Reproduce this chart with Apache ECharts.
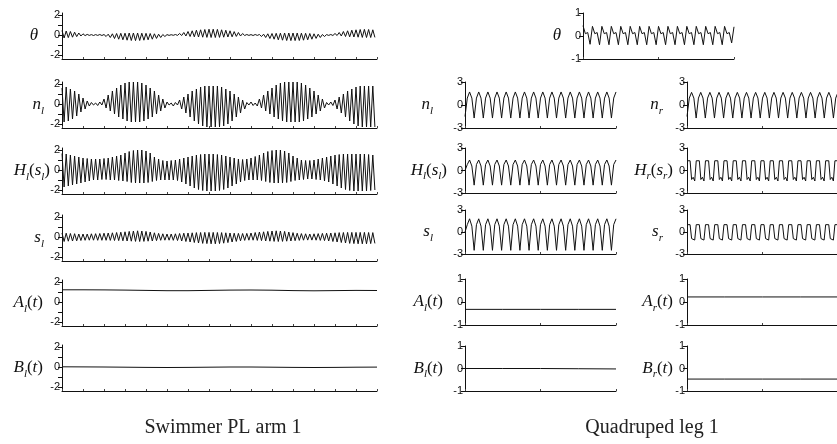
<!DOCTYPE html>
<html><head><meta charset="utf-8">
<script src="https://cdn.jsdelivr.net/npm/echarts@6/dist/echarts.min.js"></script>
<style>html,body{margin:0;padding:0;background:#fff}#c{width:837px;height:444px}</style>
</head><body><div id="c"></div>
<script>
// ---------------- DATA ----------------
// Swimmer PL arm 1: per oscillation cycle, peak value then trough value
const thetaLPeak = [0.45,0.40,0.35,0.28,0.20,0.12, 0.06,0.04,0.04,0.05,
  0.05,0.08,0.12,0.15,0.17,0.18,0.20,0.20,0.20,0.18,0.17,0.15,0.12,0.08,0.05,
  0.04,0.03,0.05,
  0.15,0.25,0.35,0.42,0.48,0.52,0.55,0.58,0.58,0.56,0.52,0.48,0.42,0.34,0.25,0.15,
  0.05,0.04,0.05,
  0.05,0.08,0.12,0.15,0.17,0.18,0.20,0.20,0.20,0.20,0.18,0.17,0.15,0.12,0.08,0.05,
  0.04,0.05,
  0.15,0.25,0.35,0.42,0.48,0.52,0.55,0.56,0.55,0.52];
const thetaLTrough = [-0.30,-0.26,-0.22,-0.16,-0.10,-0.06, -0.04,-0.05,-0.04,-0.05,
  -0.15,-0.25,-0.35,-0.42,-0.48,-0.52,-0.55,-0.56,-0.55,-0.52,-0.48,-0.42,-0.34,-0.25,-0.15,
  -0.04,-0.03,-0.04,
  -0.05,-0.10,-0.15,-0.18,-0.20,-0.22,-0.24,-0.25,-0.25,-0.24,-0.22,-0.20,-0.18,-0.14,-0.10,-0.05,
  -0.04,-0.05,-0.04,
  -0.15,-0.25,-0.35,-0.42,-0.48,-0.52,-0.55,-0.56,-0.56,-0.55,-0.52,-0.48,-0.42,-0.34,-0.25,-0.15,
  -0.04,-0.05,
  -0.05,-0.10,-0.15,-0.18,-0.20,-0.22,-0.24,-0.25,-0.25,-0.24];
const nlLPeak = [1.6,1.7,1.5,1.3,1.0,0.6,0.3, 0.15,0.10,0.20,
  0.5,0.9,1.3,1.6,1.9,2.1,2.2,2.2,2.2,2.1,1.9,1.6,1.3,0.9,0.5,
  0.20,0.10,0.15,
  0.4,0.7,1.0,1.3,1.5,1.7,1.8,1.8,1.8,1.8,1.7,1.5,1.3,1.0,0.7,0.4,
  0.15,0.20,0.10,
  0.5,0.9,1.3,1.6,1.9,2.1,2.2,2.2,2.2,2.2,2.1,1.9,1.6,1.3,0.9,0.5,
  0.15,0.20,
  0.4,0.7,1.0,1.3,1.5,1.7,1.8,1.8,1.8,1.8];
const nlLTrough = [-1.8,-1.7,-1.5,-1.2,-0.8,-0.5,-0.2, -0.10,-0.15,-0.10,
  -0.4,-0.7,-1.0,-1.3,-1.5,-1.7,-1.8,-1.8,-1.8,-1.7,-1.5,-1.3,-1.0,-0.7,-0.4,
  -0.10,-0.20,-0.10,
  -0.5,-0.9,-1.3,-1.7,-2.0,-2.2,-2.3,-2.3,-2.3,-2.3,-2.2,-2.0,-1.7,-1.3,-0.9,-0.5,
  -0.10,-0.15,-0.20,
  -0.4,-0.7,-1.0,-1.3,-1.5,-1.7,-1.8,-1.8,-1.8,-1.8,-1.7,-1.5,-1.3,-1.0,-0.7,-0.4,
  -0.10,-0.15,
  -0.5,-0.9,-1.3,-1.7,-2.0,-2.2,-2.3,-2.3,-2.3,-2.3];
const hlLPeak = [1.65,1.6,1.5,1.4,1.3,1.2,1.15,1.1,1.1,
  1.1,1.15,1.2,1.3,1.4,1.5,
  1.7,1.85,1.95,2.0,2.0,1.9,1.7,
  1.3,1.1,0.95,0.9,0.95,1.0,
  1.1,1.2,1.3,1.4,1.5,1.55,1.6,1.6,1.6,1.55,1.5,1.4,1.3,
  1.2,1.1,1.05,1.1,1.2,1.35,1.5,
  1.7,1.85,1.95,2.0,2.0,1.9,1.7,
  1.4,1.2,1.0,0.95,0.95,1.0,1.1,1.2,
  1.3,1.4,1.5,1.55,1.6,1.6,1.6,1.6,1.6,1.6,1.55,1.5];
const hlLTrough = [-1.7,-1.6,-1.5,-1.4,-1.3,-1.2,-1.1,-1.0,-1.0,
  -0.95,-0.95,-1.0,-1.0,-1.05,-1.1,
  -1.15,-1.25,-1.3,-1.3,-1.3,-1.25,-1.15,
  -1.05,-1.0,-1.0,-1.0,-1.0,-1.05,
  -1.2,-1.4,-1.6,-1.8,-1.95,-2.05,-2.1,-2.1,-2.1,-2.05,-1.95,-1.8,-1.6,
  -1.4,-1.2,-1.05,-1.0,-1.0,-1.0,-1.05,
  -1.15,-1.25,-1.3,-1.3,-1.3,-1.25,-1.15,
  -1.05,-1.0,-0.95,-0.9,-0.9,-0.95,-1.0,-1.1,
  -1.2,-1.4,-1.6,-1.8,-1.95,-2.05,-2.1,-2.1,-2.1,-2.1,-2.05,-2.0];
const slLPeak = [0.40,0.38,0.35,0.33,0.30,0.30,0.30,0.32,0.33,
  0.35,0.38,0.40,0.42,0.45,0.48,
  0.52,0.56,0.60,0.62,0.60,0.56,0.50,
  0.42,0.36,0.32,0.30,0.30,0.32,
  0.35,0.38,0.40,0.42,0.44,0.45,0.46,0.46,0.46,0.45,0.44,0.42,0.40,
  0.38,0.36,0.35,0.36,0.40,0.45,0.50,
  0.52,0.56,0.60,0.62,0.60,0.56,0.50,
  0.44,0.38,0.34,0.32,0.30,0.32,0.34,0.36,
  0.38,0.40,0.42,0.44,0.45,0.46,0.46,0.46,0.46,0.46,0.45,0.44];
const slLTrough = [-0.45,-0.42,-0.40,-0.38,-0.35,-0.33,-0.32,-0.32,-0.33,
  -0.33,-0.33,-0.34,-0.35,-0.36,-0.38,
  -0.40,-0.42,-0.44,-0.45,-0.44,-0.42,-0.40,
  -0.36,-0.33,-0.32,-0.32,-0.33,-0.35,
  -0.40,-0.45,-0.50,-0.55,-0.60,-0.64,-0.66,-0.68,-0.68,-0.66,-0.62,-0.56,-0.50,
  -0.44,-0.38,-0.34,-0.32,-0.32,-0.34,-0.36,
  -0.40,-0.42,-0.44,-0.45,-0.44,-0.42,-0.40,
  -0.37,-0.34,-0.32,-0.31,-0.31,-0.32,-0.34,-0.36,
  -0.40,-0.45,-0.50,-0.55,-0.60,-0.64,-0.66,-0.68,-0.68,-0.68,-0.66,-0.64];
const alL = [1.22,1.22,1.21,1.19,1.16,1.13,1.13,1.16,1.19,1.20,1.18,1.14,1.12,1.14,1.16,1.15];
const blL = [0.02,0.01,0.00,-0.02,-0.04,-0.05,-0.04,-0.02,0.00,0.00,-0.02,-0.04,-0.05,-0.04,-0.02,-0.01];

// Quadruped leg 1: samples at equal time steps
const thetaR = [0.45,0.10,0.15,-0.36, 0.42,0.10,0.15,-0.38, 0.42,0.10,0.15,-0.38, 0.42,0.10,0.15,-0.38,
  0.42,0.10,0.15,-0.38, 0.42,0.10,0.15,-0.38, 0.42,0.10,0.15,-0.38, 0.42,0.10,0.15,-0.38,
  0.42,0.10,0.15,-0.38, 0.42,0.10,0.15,-0.38, 0.42,0.10,0.15,-0.38, 0.42,0.10,0.15,-0.38,
  0.42,0.10,0.15,-0.38, 0.42,0.10,0.15,-0.38, 0.42,0.10,0.15,-0.38, 0.42,0.10,0.15,-0.30, 0.40];
const nlR = [-1.5,0.9,1.7,0.9, -1.7,0.9,1.7,0.9, -1.7,0.9,1.7,0.9, -1.7,0.9,1.7,0.9,
  -1.7,0.9,1.7,0.9, -1.7,0.9,1.7,0.9, -1.7,0.9,1.7,0.9, -1.7,0.9,1.7,0.9,
  -1.7,0.9,1.7,0.9, -1.7,0.9,1.7,0.9, -1.7,0.9,1.7,0.9, -1.7,0.9,1.7,0.9,
  -1.7,0.9,1.7,0.9, -1.7,0.9,1.7,0.9, -1.7,0.9,1.7,0.9, -1.7,0.9,1.7,0.9, -1.7,0.9,1.7];
const nrR = [-1.5,0.9,1.65,0.9, -1.7,0.9,1.65,0.9, -1.7,0.9,1.65,0.9, -1.7,0.9,1.65,0.9,
  -1.7,0.9,1.65,0.9, -1.7,0.9,1.65,0.9, -1.7,0.9,1.65,0.9, -1.7,0.9,1.65,0.9,
  -1.7,0.9,1.65,0.9, -1.7,0.9,1.65,0.9, -1.7,0.9,1.65,0.9, -1.7,0.9,1.65,0.9,
  -1.7,0.9,1.65,0.9, -1.7,0.9,1.65,0.9, -1.7,0.9,1.65,0.9, -1.7,0.9,1.65,0.9, -1.7,0.9,1.65];
const hlR = [0.0,0.8,1.4,0.6, -1.95,0.8,1.4,0.6, -1.95,0.8,1.4,0.6, -1.95,0.8,1.4,0.6,
  -1.95,0.8,1.4,0.6, -1.95,0.8,1.4,0.6, -1.95,0.8,1.4,0.6, -1.95,0.8,1.4,0.6,
  -1.95,0.8,1.4,0.6, -1.95,0.8,1.4,0.6, -1.95,0.8,1.4,0.6, -1.95,0.8,1.4,0.6,
  -1.95,0.8,1.4,0.6, -1.95,0.8,1.4,0.6, -1.95,0.8,1.4,0.6, -1.95,0.8,1.4,0.6, -1.95,0.8,1.4];
const slR = [0.0,1.0,1.8,0.8, -2.5,1.0,1.8,0.8, -2.5,1.0,1.8,0.8, -2.5,1.0,1.8,0.8,
  -2.5,1.0,1.8,0.8, -2.5,1.0,1.8,0.8, -2.5,1.0,1.8,0.8, -2.5,1.0,1.8,0.8,
  -2.5,1.0,1.8,0.8, -2.5,1.0,1.8,0.8, -2.5,1.0,1.8,0.8, -2.5,1.0,1.8,0.8,
  -2.5,1.0,1.8,0.8, -2.5,1.0,1.8,0.8, -2.5,1.0,1.8,0.8, -2.5,1.0,1.8,0.8, -2.5,1.0,1.8];
const hrR = [1.3,1.55,1.3,-1.2,-0.9,-1.4, 1.3,1.55,1.3,-1.2,-0.9,-1.4, 1.3,1.55,1.3,-1.2,-0.9,-1.4,
  1.3,1.55,1.3,-1.2,-0.9,-1.4, 1.3,1.55,1.3,-1.2,-0.9,-1.4, 1.3,1.55,1.3,-1.2,-0.9,-1.4,
  1.3,1.55,1.3,-1.2,-0.9,-1.4, 1.3,1.55,1.3,-1.2,-0.9,-1.4, 1.3,1.55,1.3,-1.2,-0.9,-1.4,
  1.3,1.55,1.3,-1.2,-0.9,-1.4, 1.3,1.55,1.3,-1.2,-0.9,-1.4, 1.3,1.55,1.3,-1.2,-0.9,-1.4,
  1.3,1.55,1.3,-1.2,-0.9,-1.4, 1.3,1.55,1.3,-1.2,-0.9,-1.4, 1.3,1.55,1.3,-1.2,-0.9,-1.4,
  1.3,1.55,1.3,-1.2,-0.9,-1.4, 1.3,1.55,1.3];
const srR = [1.0,1.2,1.0,-0.9,-0.7,-1.1, 1.0,1.2,1.0,-0.9,-0.7,-1.1, 1.0,1.2,1.0,-0.9,-0.7,-1.1,
  1.0,1.2,1.0,-0.9,-0.7,-1.1, 1.0,1.2,1.0,-0.9,-0.7,-1.1, 1.0,1.2,1.0,-0.9,-0.7,-1.1,
  1.0,1.2,1.0,-0.9,-0.7,-1.1, 1.0,1.2,1.0,-0.9,-0.7,-1.1, 1.0,1.2,1.0,-0.9,-0.7,-1.1,
  1.0,1.2,1.0,-0.9,-0.7,-1.1, 1.0,1.2,1.0,-0.9,-0.7,-1.1, 1.0,1.2,1.0,-0.9,-0.7,-1.1,
  1.0,1.2,1.0,-0.9,-0.7,-1.1, 1.0,1.2,1.0,-0.9,-0.7,-1.1, 1.0,1.2,1.0,-0.9,-0.7,-1.1,
  1.0,1.2,1.0,-0.9,-0.7,-1.1, 1.0,1.2,1.0];
const alR = [-0.32,-0.32,-0.32,-0.32,-0.32];
const arR = [0.22,0.22,0.22,0.22,0.22];
const blR = [0.0,0.0,0.0,-0.01,-0.02];
const brR = [-0.47,-0.47,-0.47,-0.47,-0.47];

const titles = ['Swimmer PL arm 1', 'Quadruped leg 1'];

// ---------------- BUILD ----------------
function cyc(peak, trough) {
  const d = [];
  for (let c = 0; c < peak.length; c++) { d.push([c, peak[c]]); d.push([c + 0.5, trough[c]]); }
  return d;
}
function seq(arr) { return arr.map((v, i) => [i, v]); }
function span(arr, total) { return arr.map((v, i) => [i * total / (arr.length - 1), v]); }

const L = 62, LW = 315, RA = 465, RB = 687, RT = 583, RW = 151;
const leftY = {min: -2.4, max: 2.2, ticks: [-2,-1,0,1,2], labels: [-2,0,2]};
const y3 = {min: -3, max: 3, ticks: [-3,0,3], labels: [-3,0,3]};
const y1 = {min: -1, max: 1, ticks: [-1,0,1], labels: [-1,0,1]};

const panels = [
  {left:L, top:13, w:LW, h:46, y:leftY, name:'{i|θ}', gap:24, data:cyc(thetaLPeak, thetaLTrough), xmax:75, left15:true},
  {left:L, top:82, w:LW, h:46, y:leftY, name:'{i|n}{s|l}', gap:18, data:cyc(nlLPeak, nlLTrough), xmax:75, left15:true},
  {left:L, top:148, w:LW, h:46, y:leftY, name:'{i|H}{s|l}{r|(}{i|s}{s|l}{r|)}', gap:12, data:cyc(hlLPeak, hlLTrough), xmax:75, left15:true},
  {left:L, top:215, w:LW, h:46, y:leftY, name:'{i|s}{s|l}', gap:18, data:cyc(slLPeak, slLTrough), xmax:75, left15:true},
  {left:L, top:280, w:LW, h:46, y:leftY, name:'{i|A}{s|l}{r|(}{i|t}{r|)}', gap:19, data:span(alL, 75), xmax:75, left15:true},
  {left:L, top:345, w:LW, h:46, y:leftY, name:'{i|B}{s|l}{r|(}{i|t}{r|)}', gap:19, data:span(blL, 75), xmax:75, left15:true},

  {left:RT, top:13, w:RW, h:46, y:y1, name:'{i|θ}', gap:22, data:seq(thetaR), xmax:thetaR.length-1},
  {left:RA, top:82, w:RW, h:46, y:y3, name:'{i|n}{s|l}', gap:32, data:seq(nlR), xmax:nlR.length-1},
  {left:RB, top:82, w:RW, h:46, y:y3, name:'{i|n}{s|r}', gap:24, data:seq(nrR), xmax:nrR.length-1},
  {left:RA, top:148, w:RW, h:45, y:y3, name:'{i|H}{s|l}{r|(}{i|s}{s|l}{r|)}', gap:18, data:seq(hlR), xmax:hlR.length-1},
  {left:RB, top:148, w:RW, h:45, y:y3, name:'{i|H}{s|r}{r|(}{i|s}{s|r}{r|)}', gap:14, data:seq(hrR), xmax:hrR.length-1},
  {left:RA, top:210, w:RW, h:44, y:y3, name:'{i|s}{s|l}', gap:32, data:seq(slR), xmax:slR.length-1},
  {left:RB, top:210, w:RW, h:44, y:y3, name:'{i|s}{s|r}', gap:24, data:seq(srR), xmax:srR.length-1},
  {left:RA, top:279, w:RW, h:46, y:y1, name:'{i|A}{s|l}{r|(}{i|t}{r|)}', gap:22, data:span(alR, 1), xmax:1},
  {left:RB, top:279, w:RW, h:46, y:y1, name:'{i|A}{s|r}{r|(}{i|t}{r|)}', gap:14, data:span(arR, 1), xmax:1},
  {left:RA, top:346, w:RW, h:45, y:y1, name:'{i|B}{s|l}{r|(}{i|t}{r|)}', gap:22, data:span(blR, 1), xmax:1},
  {left:RB, top:346, w:RW, h:45, y:y1, name:'{i|B}{s|r}{r|(}{i|t}{r|)}', gap:14, data:span(brR, 1), xmax:1},
];

const serif = "'Liberation Serif','Times New Roman',serif";
const sans = "'Liberation Sans',Arial,sans-serif";
const rich = {
  i: {fontFamily: serif, fontStyle: 'italic', fontSize: 17, lineHeight: 18, color: '#111'},
  r: {fontFamily: serif, fontSize: 17, lineHeight: 18, color: '#111'},
  s: {fontFamily: serif, fontStyle: 'italic', fontSize: 11, lineHeight: 12, padding: [12,0,0,0], color: '#111'}
};

const grid = [], xAxis = [], yAxis = [], series = [];
panels.forEach((p, k) => {
  grid.push({left: p.left, top: p.top, width: p.w, height: p.h, outerBoundsMode: 'none', containLabel: false});
  const xa = {gridIndex: k, type: 'value', min: 0, max: p.xmax,
    axisLine: {show: true, onZero: false, lineStyle: {color: '#111', width: 1}},
    axisLabel: {show: false}, splitLine: {show: false},
    axisTick: {show: true, inside: true, length: 2, lineStyle: {color: '#444'}}};
  if (p.left15) { xa.interval = 5; }
  else { xa.axisTick.customValues = [0, p.xmax / 2, p.xmax]; xa.splitNumber = 2; }
  xAxis.push(xa);
  yAxis.push({gridIndex: k, type: 'value', min: p.y.min, max: p.y.max,
    axisLine: {show: true, onZero: false, lineStyle: {color: '#111', width: 1}},
    axisTick: {show: true, length: 4, customValues: p.y.ticks, lineStyle: {color: '#111'}},
    axisLabel: {show: true, customValues: p.y.labels, margin: 2, fontFamily: sans, fontSize: 11, color: '#111'},
    splitLine: {show: false},
    name: p.name, nameLocation: 'middle', nameRotate: 0, nameGap: p.gap, nameMoveOverlap: false,
    nameTextStyle: {rich: rich}});
  series.push({type: 'line', xAxisIndex: k, yAxisIndex: k, data: p.data, showSymbol: false,
    lineStyle: {color: '#111', width: 1}, silent: true, animation: false});
});

const chart = echarts.init(document.getElementById('c'), null, {renderer: 'canvas'});
chart.setOption({
  backgroundColor: '#fff',
  animation: false,
  title: [
    {text: titles[0], left: 218, top: 413, textAlign: 'center', textStyle: {fontFamily: serif, fontSize: 20, fontWeight: 'normal', color: '#222'}},
    {text: titles[1], left: 647, top: 413, textAlign: 'center', textStyle: {fontFamily: serif, fontSize: 20, fontWeight: 'normal', color: '#222'}}
  ],
  grid: grid, xAxis: xAxis, yAxis: yAxis, series: series
});
</script></body></html>
